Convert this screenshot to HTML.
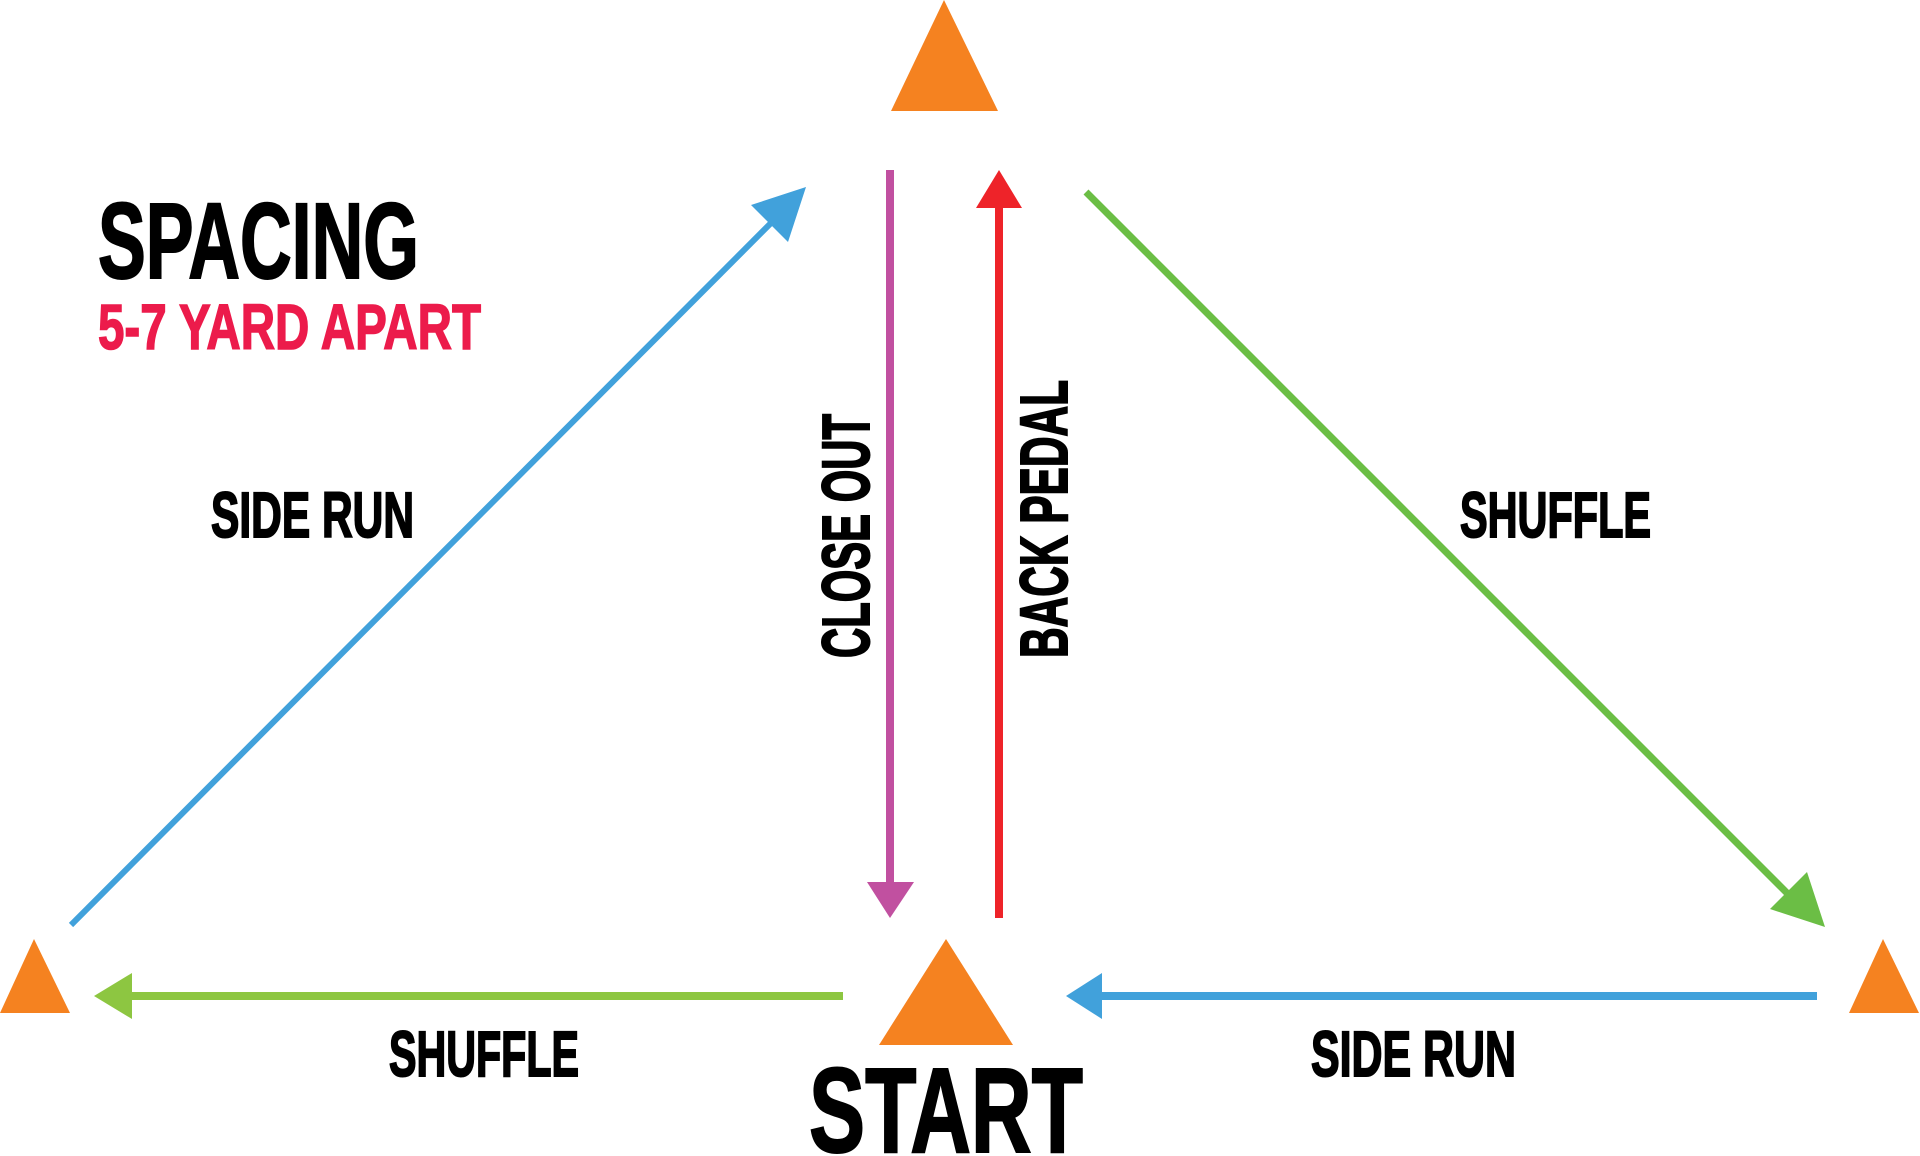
<!DOCTYPE html>
<html><head><meta charset="utf-8"><style>html,body{margin:0;padding:0;background:#fff}svg{display:block}
text{font-family:"Liberation Sans Narrow","Liberation Sans",sans-serif;font-weight:bold}</style></head>
<body>
<svg width="1920" height="1156" viewBox="0 0 1920 1156" xmlns="http://www.w3.org/2000/svg">
<g fill="#F58220">
<polygon points="891,111 944,0 998,111"/>
<polygon points="0,1013 34,939 70,1013"/>
<polygon points="1849,1013 1883,939 1919,1013"/>
<polygon points="879,1045 946,939 1013,1045"/>
</g>
<line x1="71" y1="925" x2="775" y2="219" stroke="#41A1DB" stroke-width="6"/>
<polygon points="806,187 751,205 788,242" fill="#41A1DB"/>
<line x1="890" y1="170" x2="890" y2="884" stroke="#C150A0" stroke-width="8"/>
<polygon points="867,882 914,882 890,918" fill="#C150A0"/>
<line x1="999" y1="206" x2="999" y2="918" stroke="#EE2329" stroke-width="8"/>
<polygon points="976,208 1022,208 999,170" fill="#EE2329"/>
<line x1="1086" y1="192" x2="1792" y2="898" stroke="#6BBE45" stroke-width="7"/>
<polygon points="1825,927 1807,872 1770,909" fill="#6BBE45"/>
<line x1="843" y1="996" x2="130" y2="996" stroke="#8DC641" stroke-width="8"/>
<polygon points="94,996 132,973 132,1019" fill="#8DC641"/>
<line x1="1817" y1="996" x2="1100" y2="996" stroke="#41A1DB" stroke-width="8"/>
<polygon points="1066,996 1102,973 1102,1019" fill="#41A1DB"/>
<g stroke="#000" stroke-width="2">
<text x="98" y="278" font-size="108" textLength="321" lengthAdjust="spacingAndGlyphs">SPACING</text>
<text x="211" y="537" font-size="64" textLength="203" lengthAdjust="spacingAndGlyphs">SIDE RUN</text>
<text x="1460" y="537" font-size="64" textLength="191" lengthAdjust="spacingAndGlyphs">SHUFFLE</text>
<text x="389" y="1076" font-size="64" textLength="190" lengthAdjust="spacingAndGlyphs">SHUFFLE</text>
<text x="1311" y="1076" font-size="64" textLength="205" lengthAdjust="spacingAndGlyphs">SIDE RUN</text>
<text x="809" y="1152" font-size="121" textLength="274" lengthAdjust="spacingAndGlyphs">START</text>
<text transform="translate(869,658) rotate(-90)" x="0" y="0" font-size="67" textLength="244" lengthAdjust="spacingAndGlyphs">CLOSE OUT</text>
<text transform="translate(1067,658) rotate(-90)" x="0" y="0" font-size="67" textLength="278" lengthAdjust="spacingAndGlyphs">BACK PEDAL</text>
</g>
<text x="98" y="349" font-size="64" fill="#EC1B4B" stroke="#EC1B4B" stroke-width="1.5" textLength="383" lengthAdjust="spacingAndGlyphs">5-7 YARD APART</text>
</svg>
</body></html>
